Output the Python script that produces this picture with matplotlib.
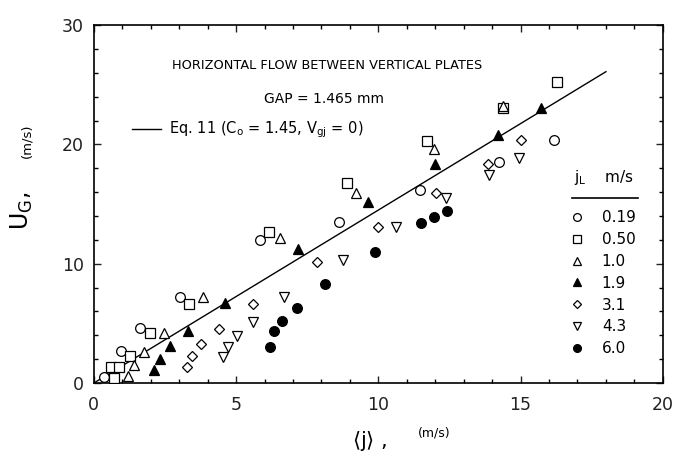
import matplotlib
matplotlib.use('Agg')
import matplotlib.pyplot as plt
from matplotlib.lines import Line2D
from matplotlib.ticker import MultipleLocator

plt.rcParams['font.family'] = ['DejaVu Sans']
plt.rcParams['mathtext.fontset'] = 'dejavusans'

# <j> (m/s) and U_G (m/s) for each liquid superficial velocity j_L
j_019 = [0.35, 0.95, 1.62, 3.03, 5.85, 8.63, 11.48, 14.23, 16.16]
ug_019 = [0.5, 2.7, 4.6, 7.2, 12.0, 13.5, 16.2, 18.5, 20.4]

j_050 = [0.6, 0.7, 0.88, 1.27, 1.97, 3.35, 6.16, 8.9, 11.7, 14.37, 16.27]
ug_050 = [1.35, 0.4, 1.35, 2.25, 4.2, 6.6, 12.65, 16.8, 20.3, 23.05, 25.2]

j_10 = [1.2, 1.4, 1.76, 2.46, 3.84, 6.55, 9.23, 11.94, 14.37]
ug_10 = [0.6, 1.5, 2.6, 4.2, 7.2, 12.15, 15.9, 19.6, 23.2]

j_19 = [2.11, 2.32, 2.68, 3.31, 4.61, 7.18, 9.65, 12.0, 14.19, 15.7]
ug_19 = [1.1, 2.0, 3.1, 4.35, 6.7, 11.2, 15.2, 18.4, 20.8, 23.05]

j_31 = [3.27, 3.45, 3.77, 4.4, 5.6, 7.85, 10.0, 12.04, 13.84, 15.03]
ug_31 = [1.35, 2.25, 3.25, 4.5, 6.6, 10.15, 13.1, 15.9, 18.4, 20.4]

j_43 = [4.54, 4.72, 5.04, 5.6, 6.69, 8.77, 10.63, 12.39, 13.9, 14.93]
ug_43 = [2.2, 3.0, 3.95, 5.1, 7.2, 10.3, 13.1, 15.5, 17.4, 18.9]

j_60 = [6.2, 6.34, 6.62, 7.15, 8.13, 9.9, 11.51, 11.97, 12.43]
ug_60 = [3.0, 4.35, 5.2, 6.3, 8.3, 11.0, 13.4, 13.9, 14.4]

jl_labels = ['0.19', '0.50', '1.0', '1.9', '3.1', '4.3', '6.0']

# drift-flux line, Eq. 11
C0 = 1.45
Vgj = 0.0
j_line = [0.0, 18.0]

series = [
    (j_019, ug_019, 'o', 'white', 7.0),
    (j_050, ug_050, 's', 'white', 7.5),
    (j_10, ug_10, '^', 'white', 7.0),
    (j_19, ug_19, '^', 'black', 7.0),
    (j_31, ug_31, 'D', 'white', 5.5),
    (j_43, ug_43, 'v', 'white', 7.0),
    (j_60, ug_60, 'o', 'black', 7.0),
]

fig = plt.figure(figsize=(6.75, 4.66), dpi=100)
ax = fig.add_axes([0.139, 0.178, 0.843, 0.768])

fit, = ax.plot(j_line, [C0 * x + Vgj for x in j_line], color='black', lw=1.0, zorder=1)

handles = []
for xs, ys, mk, fc, ms in series:
    h, = ax.plot(xs, ys, linestyle='none', marker=mk, markersize=ms,
                 markerfacecolor=fc, markeredgecolor='black', markeredgewidth=0.9, zorder=3)
    handles.append(h)

ax.set_xlim(0, 20)
ax.set_ylim(0, 30)
ax.xaxis.set_major_locator(MultipleLocator(5))
ax.xaxis.set_minor_locator(MultipleLocator(1))
ax.yaxis.set_major_locator(MultipleLocator(10))
ax.yaxis.set_minor_locator(MultipleLocator(2))
ax.tick_params(which='both', direction='in', top=True, right=True, width=1.0)
ax.tick_params(which='major', length=5, labelsize=12.5, colors='#222222')
ax.tick_params(which='minor', length=3)
ax.tick_params(axis='x', pad=9)
ax.tick_params(axis='y', pad=7)
for sp in ax.spines.values():
    sp.set_linewidth(1.2)

ax.text(8.2, 26.6, 'HORIZONTAL FLOW BETWEEN VERTICAL PLATES', fontsize=9.3,
        ha='center', va='center')
ax.text(8.1, 23.8, 'GAP = 1.465 mm', fontsize=10, ha='center', va='center')

leg1 = ax.legend([fit], [r'Eq. 11 (C$_\mathrm{o}$ = 1.45, V$_\mathrm{gj}$ = 0)'],
                 loc='center left', bbox_to_anchor=((133 - 95) / 568, (383 - 130) / 358),
                 frameon=False, fontsize=10.5, handlelength=2.0, handletextpad=0.55,
                 borderpad=0, borderaxespad=0)
ax.add_artist(leg1)

leg2 = ax.legend(handles, jl_labels, loc='upper left',
                 bbox_to_anchor=((570 - 95) / 568, (383 - 210) / 358),
                 frameon=False, fontsize=11, handlelength=1.0, handletextpad=1.1,
                 labelspacing=0.45, markerscale=0.8, borderpad=0, borderaxespad=0)

ax.text((604 - 95) / 568, (383 - 177) / 358, r'$\mathrm{j_L}$    m/s', fontsize=11,
        ha='center', va='center', transform=ax.transAxes)
ax.add_line(Line2D([(572 - 95) / 568, (638 - 95) / 568], [(383 - 198) / 358] * 2,
                   transform=ax.transAxes, color='black', lw=1.2))

fig.text(22 / 675, 1 - 211 / 466, r'U$_\mathrm{G}$,', rotation=90, fontsize=17,
         ha='center', va='center')
fig.text(27 / 675, 1 - 141 / 466, '(m/s)', rotation=90, fontsize=9.5,
         ha='center', va='center')
fig.text(370 / 675, 1 - 441 / 466, r'$\langle\mathrm{j}\rangle$ ,', fontsize=15,
         ha='center', va='center')
fig.text(434 / 675, 1 - 433 / 466, '(m/s)', fontsize=9, ha='center', va='center')

fig.savefig('out.png', dpi=100)
